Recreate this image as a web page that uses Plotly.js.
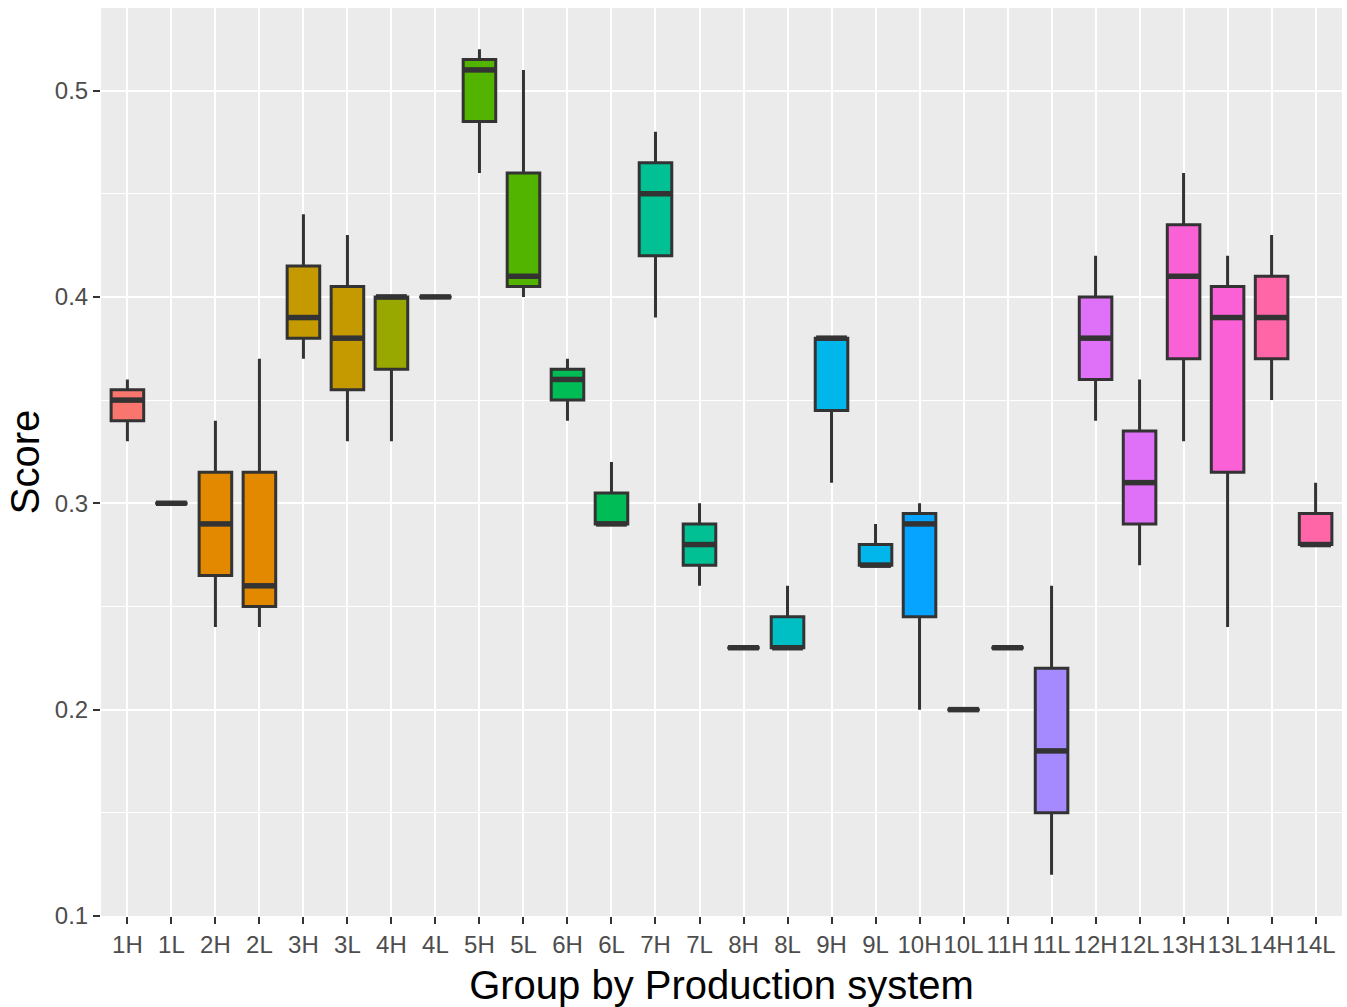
<!DOCTYPE html>
<html><head><meta charset="utf-8">
<script src="https://cdn.plot.ly/plotly-3.0.1.min.js"></script>
<style>html,body{margin:0;padding:0;background:#fff;} #chart{width:1347px;height:1007px;}</style>
</head><body><div id="chart"></div>
<script>
const groups = ['1H','1L','2H','2L','3H','3L','4H','4L','5H','5L','6H','6L','7H','7L',
                '8H','8L','9H','9L','10H','10L','11H','11L','12H','12L','13H','13L','14H','14L'];
const systems = [1,1,2,2,3,3,4,4,5,5,6,6,7,7,8,8,9,9,10,10,11,11,12,12,13,13,14,14];
const lowerWhisker = [0.33,0.30,0.24,0.24,0.37,0.33,0.33,0.40,0.46,0.40,0.34,0.29,0.39,0.26,
                      0.23,0.23,0.31,0.27,0.20,0.20,0.23,0.12,0.34,0.27,0.33,0.24,0.35,0.28];
const q1 =           [0.34,0.30,0.265,0.25,0.38,0.355,0.365,0.40,0.485,0.405,0.35,0.29,0.42,0.27,
                      0.23,0.23,0.345,0.27,0.245,0.20,0.23,0.15,0.36,0.29,0.37,0.315,0.37,0.28];
const median =       [0.35,0.30,0.29,0.26,0.39,0.38,0.40,0.40,0.51,0.41,0.36,0.29,0.45,0.28,
                      0.23,0.23,0.38,0.27,0.29,0.20,0.23,0.18,0.38,0.31,0.41,0.39,0.39,0.28];
const q3 =           [0.355,0.30,0.315,0.315,0.415,0.405,0.40,0.40,0.515,0.46,0.365,0.305,0.465,0.29,
                      0.23,0.245,0.38,0.28,0.295,0.20,0.23,0.22,0.40,0.335,0.435,0.405,0.41,0.295];
const upperWhisker = [0.36,0.30,0.34,0.37,0.44,0.43,0.40,0.40,0.52,0.51,0.37,0.32,0.48,0.30,
                      0.23,0.26,0.38,0.29,0.30,0.20,0.23,0.26,0.42,0.36,0.46,0.42,0.43,0.31];
const yTicks = [0.1,0.2,0.3,0.4,0.5];

// ggplot2 default hue palette (hcl, c=100, l=65)
function hcl(h, c, l) {
  const WY = 100, Wu = 0.1978398, Wv = 0.4683363;
  const hr = h * Math.PI / 180;
  const U = c * Math.cos(hr), V = c * Math.sin(hr);
  const Y = WY * (l > 7.999592 ? Math.pow((l + 16) / 116, 3) : l / 903.3);
  const u = U / (13 * l) + Wu, v = V / (13 * l) + Wv;
  const X = 9 * Y * u / (4 * v);
  const Z = -X / 3 - 5 * Y + 3 * Y / v;
  const g = t => t > 0.00304 ? 1.055 * Math.pow(t, 1 / 2.4) - 0.055 : 12.92 * t;
  const ch = t => Math.round(255 * Math.min(1, Math.max(0, g(t))));
  const r = ch((3.240479 * X - 1.537150 * Y - 0.498535 * Z) / WY);
  const gg = ch((-0.969256 * X + 1.875992 * Y + 0.041556 * Z) / WY);
  const b = ch((0.055648 * X - 0.204043 * Y + 1.057311 * Z) / WY);
  return 'rgb(' + r + ',' + gg + ',' + b + ')';
}
const n = groups.length;
const nSys = Math.max(...systems);
const colors = systems.map(s => hcl(15 + 360 * (s - 1) / nSys, 100, 65));

const boxW = 0.74;
const lineCol = '#333333';
const traces = groups.map((g, i) => ({
  type: 'box',
  name: g,
  x: [i],
  q1: [q1[i]], median: [median[i]], q3: [q3[i]],
  lowerfence: [lowerWhisker[i]], upperfence: [upperWhisker[i]],
  width: boxW,
  whiskerwidth: 0,
  fillcolor: colors[i],
  line: {color: lineCol, width: 3},
  hoverinfo: 'skip'
}));

// fattened median lines (as in ggplot2)
const mx = [], my = [];
groups.forEach((g, i) => { mx.push(i - boxW / 2 + 0.02, i + boxW / 2 - 0.02, null); my.push(median[i], median[i], null); });
traces.push({type: 'scatter', mode: 'lines', x: mx, y: my, line: {color: lineCol, width: 5.5}, hoverinfo: 'skip', showlegend: false});

const fontFam = '"Liberation Sans", Arial, sans-serif';
const layout = {
  width: 1347, height: 1007,
  margin: {l: 101, r: 5, t: 8, b: 91},
  paper_bgcolor: '#FFFFFF', plot_bgcolor: '#EBEBEB',
  showlegend: false, boxmode: 'overlay',
  font: {family: fontFam},
  xaxis: {
    range: [-0.6, n - 0.4],
    tickmode: 'array', tickvals: groups.map((g, i) => i), ticktext: groups,
    tickangle: 0,
    showgrid: true, gridcolor: '#FFFFFF', gridwidth: 2,
    zeroline: false, showline: false,
    ticks: 'outside', ticklen: 7, tickwidth: 2, tickcolor: lineCol,
    tickfont: {size: 24, color: '#4D4D4D', family: fontFam},
    title: {text: 'Group by Production system', font: {size: 40, color: '#000000', family: fontFam}, standoff: 14},
    automargin: false
  },
  yaxis: {
    range: [0.1, 0.54],
    tickmode: 'array', tickvals: yTicks, ticktext: yTicks.map(v => v.toFixed(1)),
    showgrid: true, gridcolor: '#FFFFFF', gridwidth: 2,
    minor: {dtick: 0.05, tick0: 0.05, showgrid: true, gridcolor: '#FFFFFF', gridwidth: 1, ticks: ''},
    zeroline: false, showline: false,
    ticks: 'outside', ticklen: 7, tickwidth: 2, tickcolor: lineCol,
    tickfont: {size: 24, color: '#4D4D4D', family: fontFam},
    title: {text: 'Score', font: {size: 40, color: '#000000', family: fontFam}, standoff: 2},
    automargin: false
  }
};
Plotly.newPlot('chart', traces, layout, {staticPlot: true, displayModeBar: false});
</script>
</body></html>
